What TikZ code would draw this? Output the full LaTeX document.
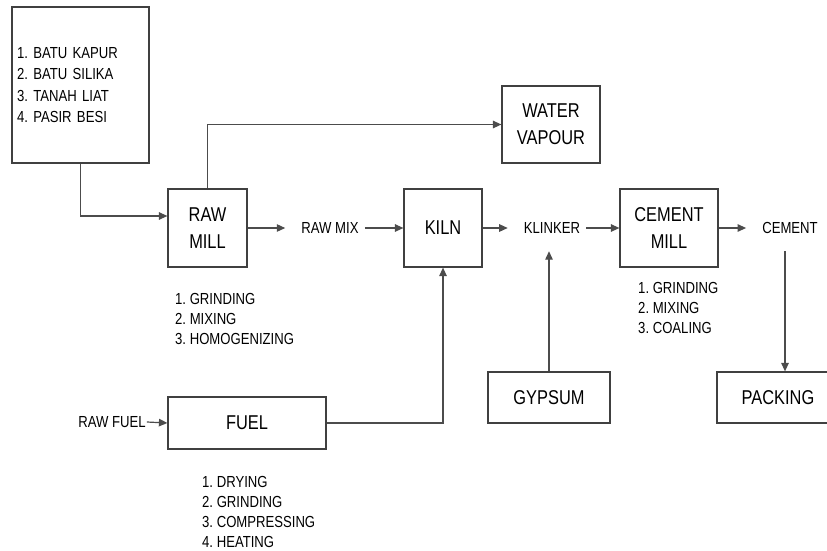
\documentclass[tikz,border=0pt]{standalone}
\usepackage{fontspec}
\setmainfont{Liberation Sans}[FakeStretch=0.82]
\usepackage{tikz}
\usetikzlibrary{arrows.meta, positioning, calc}
\frenchspacing

\begin{document}
\begin{tikzpicture}[
  x=1pt, y=-1pt,
  proc/.style={draw=black!75, line width=1.2pt, align=center,
               font=\fontsize{20}{27}\selectfont, inner sep=0pt},
  lbl/.style={font=\fontsize{16}{20}\selectfont, inner xsep=6pt,
              minimum height=46pt},
  steps/.style={font=\fontsize{16}{20}\selectfont, align=left, anchor=west,
                inner sep=0pt},
  flow/.style={draw=black!70, line width=1.2pt,
               -{Triangle[length=8.5pt, width=7.5pt]}}
]
  \clip (0,0) rectangle (827,551);

  % Raw materials
  \node[proc, minimum width=137pt, minimum height=156pt, text width=127pt,
        align=left, font=\fontsize{16}{21.5}\selectfont] (src) at (80.5,85)
       {1. BATU KAPUR\\2. BATU SILIKA\\3. TANAH LIAT\\4. PASIR BESI};

  % Main line
  \node[proc, minimum width=79pt, minimum height=78pt] (rawmill) at (207.5,228) {RAW\\MILL};
  \node[lbl] (rawmix) at (330,228) {RAW MIX};
  \node[proc, minimum width=78pt, minimum height=78pt] (kiln) at (443,228) {KILN};
  \node[lbl] (klinker) at (552,228) {KLINKER};
  \node[proc, minimum width=98pt, minimum height=78pt] (cmill) at (669,228) {CEMENT\\MILL};
  \node[lbl] (cement) at (790,228) {CEMENT};

  % Side boxes
  \node[proc, minimum width=98pt, minimum height=77pt] (water) at (551,124.5) {WATER\\VAPOUR};
  \node[proc, minimum width=158pt, minimum height=52pt] (fuel) at (247,423) {FUEL};
  \node[lbl, inner xsep=1pt] (rawfuel) at (112,422) {RAW FUEL};
  \node[proc, minimum width=122pt, minimum height=51pt] (gypsum) at (549,397.5) {GYPSUM};
  \node[proc, minimum width=122pt, minimum height=51pt] (packing) at (778,397.5) {PACKING};

  % Process steps
  \node[steps] (rmsteps) at (175,318.5) {1. GRINDING\\2. MIXING\\3. HOMOGENIZING};
  \node[steps] (fuelsteps) at (202,511.5) {1. DRYING\\2. GRINDING\\3. COMPRESSING\\4. HEATING};
  \node[steps] (cmsteps) at (638,308) {1. GRINDING\\2. MIXING\\3. COALING};

  % Connectors
  \draw[flow] (src.south) |- ([yshift=12pt]rawmill.west);
  \draw[flow] (rawmill.north) |- (water.west);
  \draw[flow, shorten >=10pt] (rawmill.east) -- (rawmix.west);
  \draw[flow] (rawmix.east) -- (kiln.west);
  \draw[flow, shorten >=10pt] (kiln.east) -- (klinker.west);
  \draw[flow] (klinker.east) -- (cmill.west);
  \draw[flow, shorten >=10pt] (cmill.east) -- (cement.west);
  \draw[flow] (rawfuel.east) -- (fuel.west);
  \draw[flow] (fuel.east) -| (kiln.south);
  \draw[flow] (gypsum.north) -- (gypsum.north |- klinker.south);
  \draw[flow] ([xshift=-5pt]cement.south) -- ([xshift=-5pt]cement.south |- packing.north);
\end{tikzpicture}
\end{document}
